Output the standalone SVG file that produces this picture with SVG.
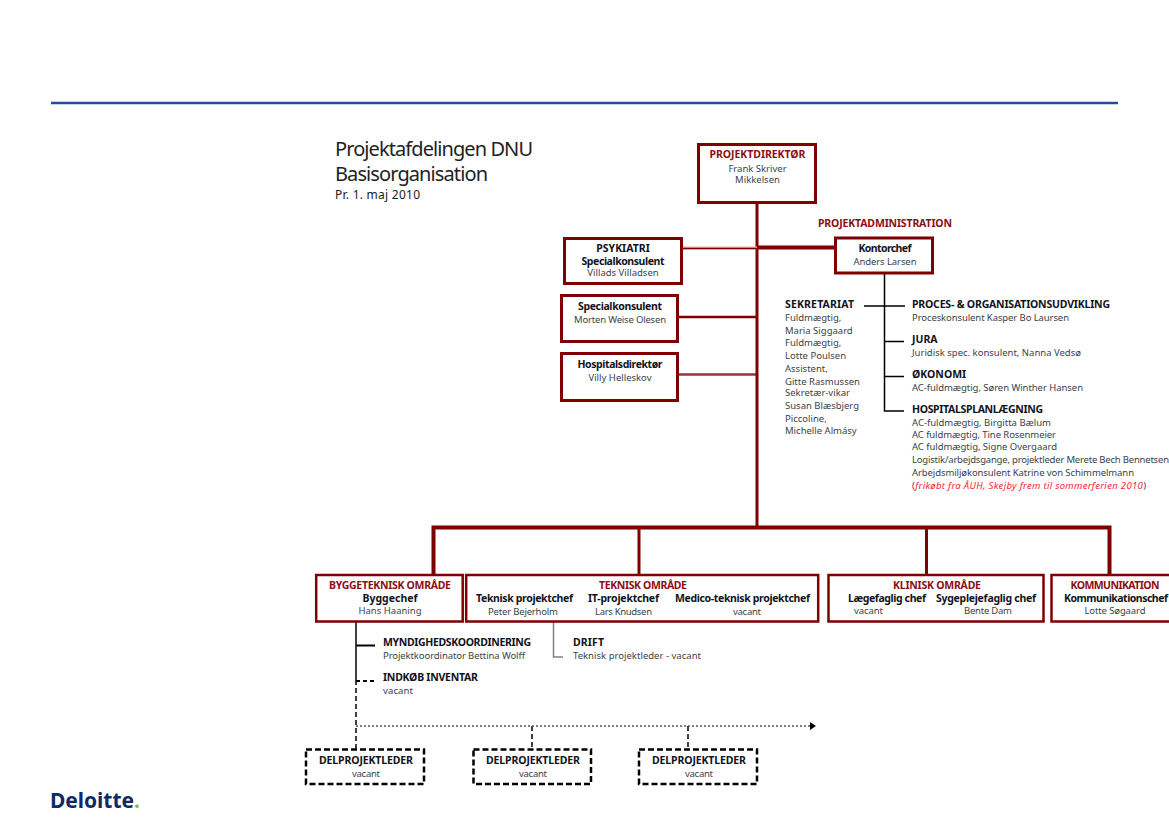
<svg xmlns="http://www.w3.org/2000/svg" width="1169" height="827" viewBox="0 0 1169 827">
<style>
text{font-family:"Noto Sans","Liberation Sans",sans-serif;font-size:9.5px;fill:#3a3f4a}
.b{font-weight:700;font-size:10.5px;fill:#10131c}
.r{font-weight:700;font-size:10.5px;fill:#8a0f14}
.m{text-anchor:middle}
.box{fill:#fff;stroke:#7f0000;stroke-width:3}
.box2{fill:#fff;stroke:#7f0000;stroke-width:2.5}
.dbox{fill:#fff;stroke:#000;stroke-width:2.500;stroke-dasharray:6 3}
.red{stroke:#7f0000;fill:none}
.k{stroke:#000;fill:none}
.t{font-size:20px;fill:#222}
.l{font-size:21px;font-weight:700}
</style>
<defs><marker id="arr" markerUnits="userSpaceOnUse" markerWidth="6" markerHeight="8" refX="6" refY="4" orient="auto"><path d="M0 0L6 4L0 8Z" fill="#000"/></marker></defs>
<rect width="1169" height="827" fill="#fff"/>
<path d="M51 103H1118" stroke="#1f4e9c" stroke-width="2.5" fill="none"/>
<g id="title">
<text x="335" y="156" class="t" textLength="198">Projektafdelingen DNU</text>
<text x="335" y="181" class="t" textLength="153">Basisorganisation</text>
<text x="335" y="199" style="font-size:12px;fill:#222" textLength="85">Pr. 1. maj 2010</text>
</g>
<g id="connectors">
<path class="red" stroke-width="3" d="M757 204V527"/>
<path class="red" stroke-width="4" d="M757 247.500H835"/>
<path stroke="#dcb6b6" stroke-width="3" d="M683 248H757" fill="none"/>
<path class="red" stroke-width="1.500" d="M683 248.500H757"/>
<path class="red" stroke-width="2.500" d="M679 317H757"/>
<path class="red" stroke-width="2.500" stroke-opacity=".8" d="M679 374.500H757"/>
<path class="red" stroke-width="4" d="M433.500 574V527.500H1109.500V574"/>
<path class="red" stroke-width="3" d="M639 527V574"/>
<path class="red" stroke-width="3" d="M926.500 527V574"/>
<path class="k" stroke-width="1.500" d="M884.500 274V411H904M864 306H905M885 341.500H904M885 376.500H904"/>
<path class="k" stroke-width="1.500" d="M356 622V680"/>
<path class="k" stroke-width="2" d="M356 645.500H375"/>
<path class="k" stroke-width="2" stroke-dasharray="4 3" d="M356 681H376"/>
<path stroke="#808080" fill="none" stroke-width="1.500" d="M553.500 622V657H563"/>
<path class="k" stroke-width="1.500" stroke-dasharray="5 3" d="M356 680V749M532 726V749M688 726V749"/>
<path stroke="#555" fill="none" stroke-width="1.500" stroke-dasharray="2 2" d="M356 726H816" marker-end="url(#arr)"/>
</g>
<g id="n1"><rect class="box" x="698.500" y="144.500" width="117" height="58"/>
<text class="r m" x="757.500" y="158" textLength="96">PROJEKTDIREKTØR</text>
<text class="m" x="757.500" y="171.500">Frank Skriver</text><text class="m" x="757.500" y="183">Mikkelsen</text></g>
<text id="padm" class="r" x="818" y="227" textLength="134">PROJEKTADMINISTRATION</text>
<g id="n2"><rect class="box" x="564.500" y="238.500" width="117" height="45"/>
<text class="b m" x="623" y="252">PSYKIATRI</text><text class="b m" x="623" y="264.500" textLength="83">Specialkonsulent</text><text class="m" x="623" y="276">Villads Villadsen</text></g>
<g id="n3"><rect class="box" x="561.500" y="295.500" width="116" height="46"/>
<text class="b m" x="620" y="309.500" textLength="84">Specialkonsulent</text><text class="m" x="620" y="323" textLength="92">Morten Weise Olesen</text></g>
<g id="n4"><rect class="box" x="561.500" y="353.500" width="116" height="47"/>
<text class="b m" x="620" y="368" textLength="85">Hospitalsdirektør</text><text class="m" x="620" y="381">Villy Helleskov</text></g>
<g id="n5"><rect class="box" x="835.500" y="238" width="97" height="35"/>
<text class="b m" x="885" y="251.500" textLength="53">Kontorchef</text><text class="m" x="885" y="265" textLength="63">Anders Larsen</text></g>
<g id="sek">
<text class="b" x="785" y="308" textLength="69">SEKRETARIAT</text>
<text x="785" y="320.500">Fuldmægtig,</text><text x="785" y="333.500">Maria Siggaard</text><text x="785" y="345.500">Fuldmægtig,</text><text x="785" y="358.500">Lotte Poulsen</text><text x="785" y="371.500">Assistent,</text><text x="785" y="384.500">Gitte Rasmussen</text><text x="785" y="396">Sekretær-vikar</text><text x="785" y="409">Susan Blæsbjerg</text><text x="785" y="421.500">Piccoline,</text><text x="785" y="433.500">Michelle Almásy</text>
</g>
<g id="proces"><text class="b" x="912" y="308" textLength="198">PROCES- &amp; ORGANISATIONSUDVIKLING</text><text x="912" y="320.500" textLength="157">Proceskonsulent Kasper Bo Laursen</text></g>
<g id="jura"><text class="b" x="912" y="343">JURA</text><text x="912" y="355.500" textLength="169">Juridisk spec. konsulent, Nanna Vedsø</text></g>
<g id="okonomi"><text class="b" x="912" y="378">ØKONOMI</text><text x="912" y="390.500" textLength="171">AC-fuldmægtig, Søren Winther Hansen</text></g>
<g id="hosp"><text class="b" x="912" y="412.500" textLength="131">HOSPITALSPLANLÆGNING</text>
<text x="912" y="425.500" textLength="139">AC-fuldmægtig, Birgitta Bælum</text>
<text x="912" y="438" textLength="144">AC fuldmægtig, Tine Rosenmeier</text>
<text x="912" y="450" textLength="145">AC fuldmægtig, Signe Overgaard</text>
<text x="912" y="463" textLength="257">Logistik/arbejdsgange, projektleder Merete Bech Bennetsen</text>
<text x="912" y="476" textLength="222">Arbejdsmiljøkonsulent Katrine von Schimmelmann</text>
<text x="912" y="489" textLength="234">(<tspan style="fill:#ff2030;font-style:italic">frikøbt fra ÅUH, Skejby frem til sommerferien 2010</tspan>)</text></g>
<g id="n6"><rect class="box2" x="316.200" y="575" width="146.500" height="46.500"/>
<text class="r m" x="390" y="589" textLength="122">BYGGETEKNISK OMRÅDE</text><text class="b m" x="390" y="602">Byggechef</text><text class="m" x="390" y="614">Hans Haaning</text></g>
<g id="n7"><rect class="box2" x="466.200" y="575" width="352" height="46.500"/>
<text class="r m" x="643" y="589" textLength="88">TEKNISK OMRÅDE</text>
<text class="b" x="476" y="602" textLength="97">Teknisk projektchef</text><text class="b" x="588" y="602" textLength="71">IT-projektchef</text><text class="b" x="675" y="602" textLength="135">Medico-teknisk projektchef</text>
<text x="488" y="614.500" textLength="70">Peter Bejerholm</text><text x="595" y="614.500" textLength="57">Lars Knudsen</text><text x="733" y="614.500" textLength="28">vacant</text></g>
<g id="n8"><rect class="box2" x="828.500" y="575" width="215" height="46.500"/>
<text class="r m" x="937" y="589" textLength="88">KLINISK OMRÅDE</text>
<text class="b" x="848" y="602" textLength="78">Lægefaglig chef</text><text class="b" x="936" y="602" textLength="100">Sygeplejefaglig chef</text>
<text x="854" y="614" textLength="29">vacant</text><text x="964" y="614" textLength="48">Bente Dam</text></g>
<g id="n9"><path class="box2" d="M1170 575H1051.500V621.500H1170"/>
<text class="r m" x="1115" y="589" textLength="89">KOMMUNIKATION</text><text class="b m" x="1116" y="602" textLength="104">Kommunikationschef</text><text class="m" x="1115" y="614" textLength="61">Lotte Søgaard</text></g>
<g id="myn"><text class="b" x="383" y="646" textLength="148">MYNDIGHEDSKOORDINERING</text><text x="383" y="659" textLength="142">Projektkoordinator Bettina Wolff</text></g>
<g id="drift"><text class="b" x="573" y="646" textLength="31">DRIFT</text><text x="573" y="659" textLength="128">Teknisk projektleder - vacant</text></g>
<g id="ind"><text class="b" x="383" y="681" textLength="95">INDKØB INVENTAR</text><text x="383" y="694" textLength="30">vacant</text></g>
<g id="d1"><rect class="dbox" x="306" y="749.500" width="118" height="34.500"/><text class="b m" x="366" y="764" textLength="94">DELPROJEKTLEDER</text><text class="m" x="366" y="777" textLength="28">vacant</text></g>
<g id="d2"><rect class="dbox" x="473.500" y="749.500" width="117.500" height="34.500"/><text class="b m" x="533" y="764" textLength="94">DELPROJEKTLEDER</text><text class="m" x="533" y="777" textLength="28">vacant</text></g>
<g id="d3"><rect class="dbox" x="639" y="749.500" width="118" height="34.500"/><text class="b m" x="699" y="764" textLength="94">DELPROJEKTLEDER</text><text class="m" x="699" y="777" textLength="28">vacant</text></g>
<g id="logo"><text x="50" y="808" class="l" style="fill:#0f2a66" textLength="84">Deloitte</text><text x="134" y="808" class="l" style="fill:#86bc25">.</text></g>
</svg>
